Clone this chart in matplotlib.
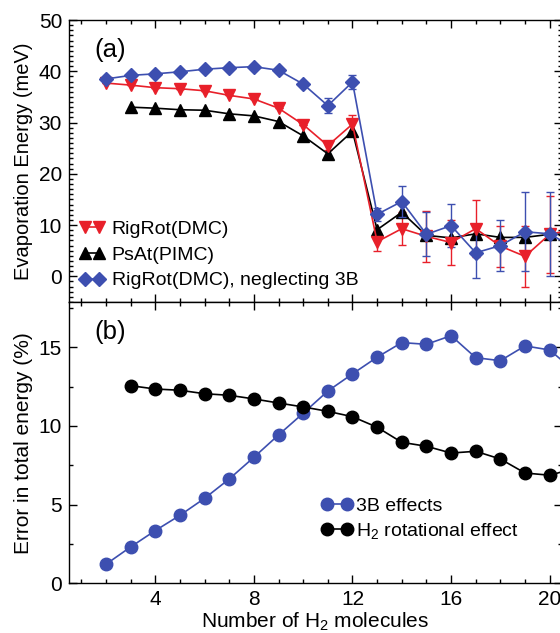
import matplotlib
matplotlib.use("Agg")
import matplotlib.pyplot as plt
from matplotlib.lines import Line2D
from matplotlib.ticker import MultipleLocator

plt.rcParams['font.family'] = ['Liberation Sans', 'DejaVu Sans']
plt.rcParams['mathtext.fontset'] = 'custom'
plt.rcParams['mathtext.rm'] = 'Liberation Sans'
plt.rcParams['mathtext.it'] = 'Liberation Sans:italic'
plt.rcParams['mathtext.default'] = 'regular'

# ---------------- data: panel (a) ----------------
n_rig = [2, 3, 4, 5, 6, 7, 8, 9, 10, 11, 12, 13, 14, 15, 16, 17, 18, 19, 20, 21]
rigrot = [37.7, 37.3, 36.8, 36.6, 36.2, 35.3, 34.6, 32.8, 29.6, 25.5, 29.7,
          6.75, 9.3, 7.8, 6.6, 9.3, 5.9, 3.9, 8.2, 9.2]
rigrot_err = [0, 0, 0, 0, 0, 0, 0, 0, 0, 0.9, 1.75,
              1.8, 3.2, 5.0, 4.4, 5.6, 4.0, 6.0, 7.5, 0]

n_psat = [3, 4, 5, 6, 7, 8, 9, 10, 11, 12, 13, 14, 15, 16, 17, 18, 19, 20, 21]
psat = [33.0, 32.8, 32.5, 32.4, 31.7, 31.3, 30.2, 27.4, 23.9, 28.3,
        9.1, 12.5, 8.0, 7.5, 8.3, 7.6, 7.6, 8.2, 8.3]

n_no3b = [2, 3, 4, 5, 6, 7, 8, 9, 10, 11, 12, 13, 14, 15, 16, 17, 18, 19, 20, 21]
no3b = [38.5, 39.2, 39.5, 39.9, 40.4, 40.7, 40.9, 40.2, 37.5, 33.3, 37.9,
        12.1, 14.6, 8.2, 9.9, 4.6, 6.0, 8.7, 8.3, 5.5]
no3b_err = [0, 0, 0, 0, 0, 0, 0, 0, 0, 1.4, 1.4,
            1.3, 3.1, 4.3, 4.2, 5.0, 4.9, 7.7, 8.2, 0]

labels_a = ['RigRot(DMC)', 'PsAt(PIMC)', 'RigRot(DMC), neglecting 3B']

# ---------------- data: panel (b) ----------------
n_3b = [2, 3, 4, 5, 6, 7, 8, 9, 10, 11, 12, 13, 14, 15, 16, 17, 18, 19, 20, 21]
err_3b = [1.21, 2.31, 3.35, 4.32, 5.40, 6.63, 8.01, 9.43, 10.81, 12.22, 13.31,
          14.37, 15.30, 15.19, 15.74, 14.34, 14.15, 15.09, 14.83, 13.5]

n_rot = [3, 4, 5, 6, 7, 8, 9, 10, 11, 12, 13, 14, 15, 16, 17, 18, 19, 20, 21]
err_rot = [12.56, 12.35, 12.27, 12.05, 11.95, 11.72, 11.46, 11.21, 10.93, 10.59,
           9.92, 8.96, 8.71, 8.28, 8.39, 7.90, 7.01, 6.87, 7.3]

labels_b = ['3B effects', 'H$_2$ rotational effect']

RED = '#E8202A'
BLUE = '#3D4FB0'
BLACK = '#000000'

W, H = 560, 633
fig = plt.figure(figsize=(W / 100, H / 100), dpi=100)

left = 69 / W
width = (562 - 69) / W
axa = fig.add_axes([left, 1 - 302 / H, width, (302 - 20) / H])
axb = fig.add_axes([left, 1 - 583.3 / H, width, (583.3 - 302) / H], sharex=axa)

lw = 1.2
eb_kw = dict(capsize=3, elinewidth=1.0, capthick=1.0, linewidth=lw)

st_red = dict(color=RED, marker='v', ms=8.5)
st_blk = dict(color=BLACK, marker='^', ms=8.5)
st_blu = dict(color=BLUE, marker='D', ms=7)

axa.errorbar(n_rig, rigrot, yerr=rigrot_err, **st_red, **eb_kw)
axa.plot(n_psat, psat, lw=lw, **st_blk)
axa.errorbar(n_no3b, no3b, yerr=no3b_err, **st_blu, **eb_kw)

st_b3 = dict(color=BLUE, marker='o', ms=9)
st_rot = dict(color=BLACK, marker='o', ms=9)
axb.plot(n_3b, err_3b, lw=lw, **st_b3)
axb.plot(n_rot, err_rot, lw=lw, **st_rot)

axa.set_xlim(0.5, 20.5)
axa.set_ylim(-5, 50)
axb.set_ylim(0, 17.88)

for ax in (axa, axb):
    ax.xaxis.set_major_locator(MultipleLocator(4))
    ax.xaxis.set_minor_locator(MultipleLocator(1))
    ax.tick_params(which='both', direction='in', top=True, right=True,
                   labelsize=15, width=1.0)
    ax.tick_params(which='major', length=6, pad=5)
    ax.tick_params(which='minor', length=3)
    for s in ax.spines.values():
        s.set_linewidth(1.0)

axa.yaxis.set_major_locator(MultipleLocator(10))
axa.yaxis.set_minor_locator(MultipleLocator(1))
axb.yaxis.set_major_locator(MultipleLocator(5))
axb.yaxis.set_minor_locator(MultipleLocator(2.5))
axa.tick_params(axis='x', labelbottom=False)

axa.set_ylabel('Evaporation Energy (meV)', fontsize=14.5, labelpad=4)
axb.set_ylabel('Error in total energy (%)', fontsize=15, labelpad=4)
axb.set_xlabel('Number of H$_2$ molecules', fontsize=15, labelpad=1)
fig.align_ylabels([axa, axb])

axa.text(0.083, 0.895, '(a)', transform=axa.transAxes, fontsize=18.5,
         ha='center', va='center')
axb.text(0.083, 0.895, '(b)', transform=axb.transAxes, fontsize=18.5,
         ha='center', va='center')

ha = [Line2D([], [], lw=lw, **st_red), Line2D([], [], lw=lw, **st_blk),
      Line2D([], [], lw=lw, **st_blu)]
axa.legend(ha, labels_a, loc='lower left', bbox_to_anchor=(0.02, 0.045),
           frameon=False, fontsize=14, numpoints=2, handlelength=1.32,
           handletextpad=0.36, labelspacing=0.42, borderpad=0.0,
           borderaxespad=0.0)
hb = [Line2D([], [], lw=lw, **st_b3), Line2D([], [], lw=lw, **st_rot)]
axb.legend(hb, labels_b, loc='lower left', bbox_to_anchor=(0.511, 0.15),
           frameon=False, fontsize=14, numpoints=2, handlelength=1.63,
           handletextpad=0.15, labelspacing=0.3, borderpad=0.0,
           borderaxespad=0.0)

fig.savefig('out.png', dpi=100)
